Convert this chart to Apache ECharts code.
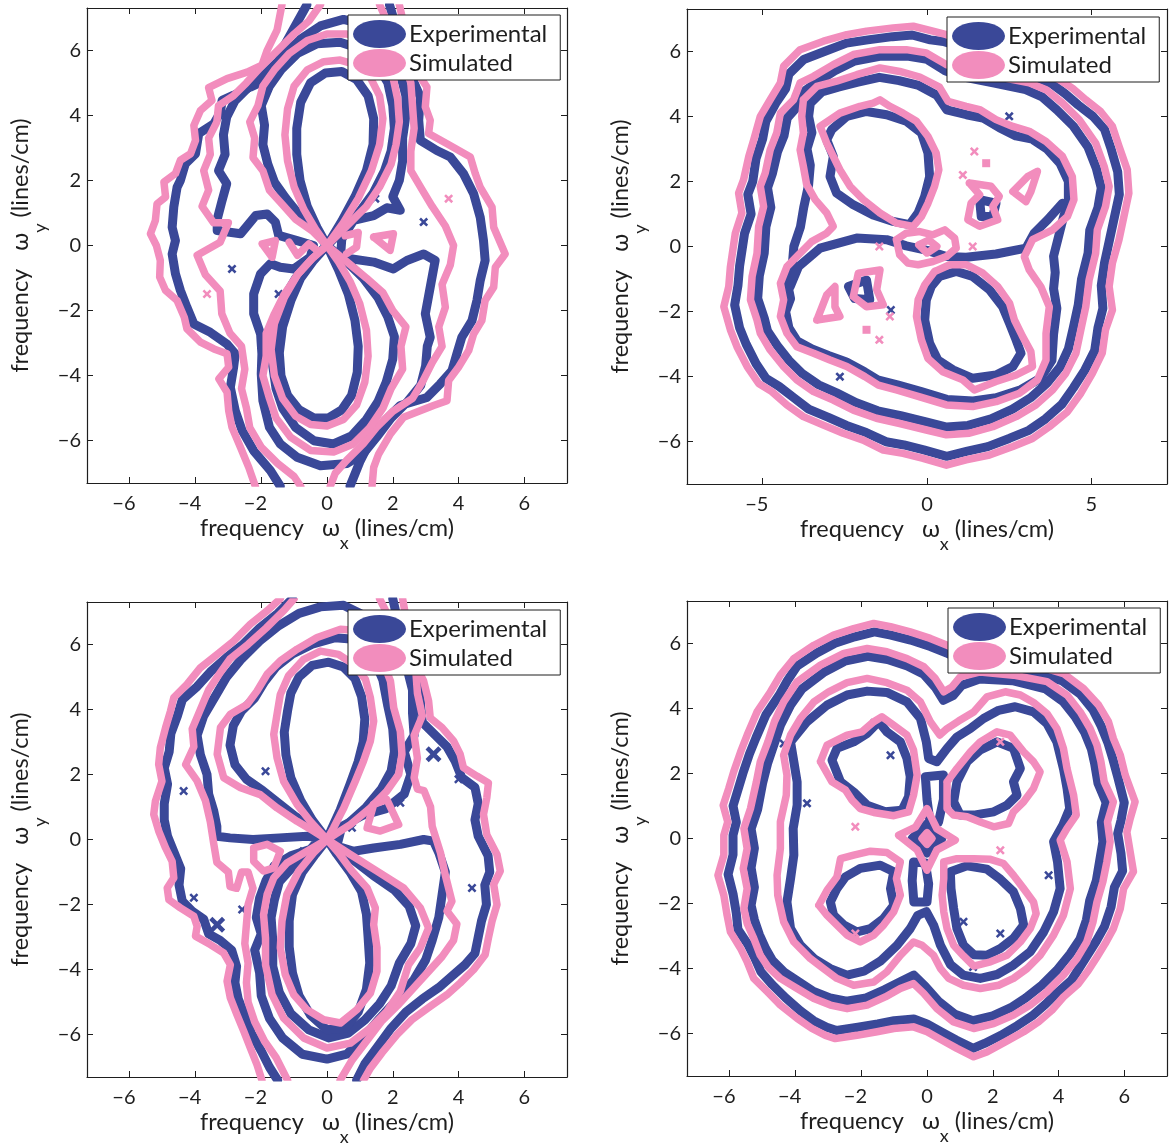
<!DOCTYPE html>
<html><head><meta charset="utf-8">
<script src="https://cdn.jsdelivr.net/npm/echarts@6/dist/echarts.min.js"></script>
<style>html,body{margin:0;padding:0;background:#fff}#c{width:1169px;height:1144px}</style>
</head><body><div id="c"></div>
<script>
// ---------- tick labels ----------
const TICKS_EVEN = [-6,-4,-2,0,2,4,6];
const TICKS_FIVE = [-5,0,5];
const AXIS_RANGE = [-7.3, 7.3];
const SERIES_NAMES = ['Experimental','Simulated'];

// ---------- top-left panel ----------
const tlSimOuterLeft = [[-1.37,7.4],[-1.52,6.62],[-1.82,6.0],[-1.98,5.54],[-2.43,5.33],[-3.04,5.13],[-3.6,4.85],[-3.5,4.46],[-3.85,4.15],[-4.05,3.69],[-4.0,3.23],[-4.15,2.82],[-4.46,2.62],[-4.61,2.21],[-4.96,1.95],[-4.91,1.49],[-5.17,1.28],[-5.22,0.77],[-5.37,0.36],[-5.19,0],[-5.07,-0.46],[-5.09,-0.97],[-4.91,-1.38],[-4.56,-1.69],[-4.34,-2.21],[-4.26,-2.56],[-3.85,-2.97],[-3.44,-3.18],[-3.04,-3.33],[-2.99,-3.74],[-3.29,-4.1],[-3.04,-4.51],[-2.99,-5.08],[-2.89,-5.59],[-2.63,-6.21],[-2.38,-6.82],[-2.18,-7.4]];
const tlExpOuterLeft = [[-0.61,7.4],[-1.01,6.67],[-1.32,6.1],[-1.52,5.49],[-1.87,5.08],[-2.33,4.87],[-2.84,4.62],[-3.19,4.46],[-3.24,4.1],[-3.44,3.74],[-3.9,3.44],[-4.0,2.82],[-4.31,2.51],[-4.46,2.0],[-4.56,1.79],[-4.66,1.18],[-4.71,0.56],[-4.61,0.15],[-4.71,-0.26],[-4.61,-0.87],[-4.46,-1.38],[-4.26,-1.9],[-4.05,-2.41],[-3.55,-2.67],[-3.04,-3.03],[-2.79,-3.33],[-2.84,-3.74],[-2.94,-4.36],[-2.79,-5.08],[-2.58,-5.69],[-2.23,-6.31],[-1.72,-6.92],[-1.42,-7.4]];
const tlSimOuterRight = [[2.2,7.4],[2.63,5.49],[3.04,4.87],[2.99,4.26],[3.14,3.85],[3.09,3.44],[3.65,3.13],[4.36,2.72],[4.51,2.21],[4.66,1.79],[5.02,1.18],[5.07,0.56],[5.42,-0.26],[5.12,-0.67],[5.07,-1.28],[4.81,-1.69],[4.71,-2.31],[4.46,-2.72],[4.31,-3.23],[4.0,-3.74],[3.7,-4.15],[3.65,-4.77],[3.24,-4.92],[2.33,-5.28],[1.93,-5.79],[1.57,-6.41],[1.42,-6.82],[1.37,-7.4]];
const tlExpOuterRight = [[1.9,7.4],[2.53,5.28],[2.84,4.56],[2.79,3.85],[2.84,3.23],[3.34,2.92],[3.75,2.72],[4.15,2.21],[4.46,1.59],[4.66,0.87],[4.76,0.15],[4.81,-0.46],[4.66,-1.08],[4.56,-1.69],[4.41,-2.31],[4.1,-2.82],[3.95,-3.33],[3.8,-3.85],[3.44,-4.26],[3.04,-4.67],[2.23,-4.92],[1.77,-5.38],[1.32,-6.0],[1.01,-6.62],[0.7,-7.4]];
const tlSimSecondLeft = [[-0.2,7.4],[-0.55,6.9],[-1.0,6.5],[-1.5,6.0],[-2.0,5.5],[-2.45,5.0],[-2.85,4.6],[-3.3,4.3],[-3.35,3.8],[-3.6,3.3],[-3.55,2.8],[-3.75,2.3],[-3.6,1.7],[-3.8,1.2],[-3.45,0.7],[-3.0,0.7],[-3.25,0.1],[-3.95,-0.3],[-3.7,-0.9],[-3.25,-1.4],[-3.2,-2.1],[-2.95,-2.7],[-2.6,-3.1],[-2.5,-3.8],[-2.6,-4.4],[-2.45,-5.0],[-2.35,-5.6],[-2.0,-6.2],[-1.5,-6.7],[-1.0,-7.1],[-0.8,-7.4]];
const tlSimSecondRight = [[1.6,7.4],[2.0,6.5],[2.3,5.8],[2.55,5.0],[2.6,4.3],[2.65,3.6],[2.55,2.9],[2.55,2.3],[2.9,1.7],[3.2,1.2],[3.6,0.6],[3.85,0.0],[3.75,-0.6],[3.5,-1.2],[3.6,-1.9],[3.4,-2.5],[3.5,-3.1],[3.2,-3.6],[2.9,-4.2],[2.6,-4.7],[2.0,-5.1],[1.5,-5.6],[1.1,-6.1],[0.6,-6.6],[0.25,-7.0],[0.1,-7.4]];
const tlExpSecond = [[0.5,6.95],[-0.2,6.75],[-0.8,6.35],[-1.3,5.85],[-1.85,5.3],[-2.35,4.9],[-2.8,4.45],[-3.05,3.95],[-3.15,3.4],[-3.1,2.8],[-3.3,2.3],[-3.05,1.9],[-3.2,1.35],[-3.34,0.8],[-3.34,0.46],[-2.63,0.36],[-2.17,0.92],[-1.82,0.97],[-1.57,0.72],[-1.47,0.31],[-0.91,0.15],[-0.41,0.0],[-0.51,-0.36],[-1.01,-0.72],[-1.42,-0.67],[-1.72,-0.56],[-2.02,-0.87],[-2.23,-1.49],[-2.23,-2.1],[-2.02,-2.72],[-1.98,-3.33],[-2.0,-3.95],[-1.95,-4.77],[-1.75,-5.59],[-1.42,-6.1],[-0.91,-6.51],[-0.2,-6.77],[0.61,-6.7],[1.1,-6.4],[1.5,-5.9],[1.95,-5.3],[2.45,-4.8],[2.85,-4.3],[3.0,-3.7],[3.05,-3.1],[3.14,-2.82],[2.99,-2.1],[3.14,-1.28],[3.29,-0.46],[2.94,-0.26],[2.43,-0.46],[2.02,-0.72],[1.42,-0.51],[0.41,-0.36],[0.45,0.2],[0.81,0.77],[1.42,0.92],[1.82,1.16],[2.23,1.08],[2.0,1.5],[2.2,2.0],[2.3,2.6],[2.3,3.3],[2.4,4.0],[2.4,4.6],[2.25,5.2],[2.0,5.8],[1.6,6.4],[1.1,6.8],[0.5,6.95]];
const tlSimThird = [[0,0],[-0.45,0.45],[-0.95,0.8],[-1.35,1.25],[-1.75,1.7],[-1.95,2.3],[-2.25,2.7],[-2.2,3.3],[-2.35,3.8],[-2.1,4.3],[-1.95,4.9],[-1.6,5.4],[-1.15,5.9],[-0.6,6.3],[0.0,6.5],[0.6,6.5],[1.2,6.3],[1.7,5.8],[2.0,5.2],[2.15,4.5],[2.2,3.8],[2.1,3.1],[1.95,2.5],[1.6,1.8],[1.2,1.2],[0.7,0.7],[0.3,0.3],[0,0],[-0.45,-0.4],[-0.9,-0.9],[-1.3,-1.5],[-1.6,-2.1],[-1.85,-2.7],[-1.85,-3.4],[-1.95,-4.0],[-1.75,-4.7],[-1.55,-5.3],[-1.1,-5.9],[-0.5,-6.3],[0.2,-6.35],[0.8,-6.1],[1.3,-5.6],[1.7,-5.0],[1.95,-4.4],[2.3,-3.8],[2.25,-3.1],[2.4,-2.5],[2.0,-2.0],[1.7,-1.45],[1.2,-1.0],[0.6,-0.5],[0,0]];
const tlExpThird = [[0,0],[-0.4,0.5],[-0.85,0.95],[-1.25,1.45],[-1.6,1.95],[-1.8,2.5],[-1.95,3.1],[-1.9,3.7],[-2.0,4.3],[-1.75,4.9],[-1.4,5.4],[-0.9,5.9],[-0.3,6.2],[0.4,6.25],[1.0,6.05],[1.5,5.6],[1.85,5.0],[2.0,4.3],[2.05,3.6],[1.95,2.9],[1.75,2.3],[1.4,1.6],[1.0,1.05],[0.5,0.5],[0,0],[-0.5,-0.45],[-0.95,-1.0],[-1.3,-1.6],[-1.55,-2.3],[-1.65,-3.0],[-1.65,-3.7],[-1.55,-4.4],[-1.35,-5.0],[-0.95,-5.6],[-0.4,-6.0],[0.2,-6.1],[0.75,-5.85],[1.2,-5.35],[1.55,-4.8],[1.8,-4.2],[2.0,-3.5],[2.05,-2.8],[1.85,-2.2],[1.55,-1.6],[1.1,-1.0],[0.55,-0.45],[0,0]];
const tlSimInner = [[0,0],[-0.35,0.5],[-0.7,1.1],[-1.0,1.8],[-1.2,2.6],[-1.28,3.4],[-1.2,4.2],[-1.0,4.9],[-0.6,5.4],[-0.1,5.65],[0.4,5.7],[0.9,5.55],[1.3,5.2],[1.6,4.6],[1.7,3.9],[1.6,3.1],[1.35,2.3],[0.95,1.45],[0.5,0.7],[0,0],[-0.45,-0.4],[-0.9,-0.9],[-1.3,-1.6],[-1.6,-2.4],[-1.7,-3.2],[-1.6,-4.0],[-1.35,-4.7],[-0.95,-5.25],[-0.5,-5.5],[0,-5.55],[0.5,-5.35],[0.9,-4.9],[1.15,-4.2],[1.25,-3.4],[1.2,-2.6],[1.0,-1.8],[0.7,-1.1],[0.35,-0.5],[0,0]];
const tlExpInner = [[0,0],[-0.3,0.55],[-0.6,1.2],[-0.82,2.0],[-0.92,2.8],[-0.92,3.6],[-0.8,4.4],[-0.5,5.0],[-0.05,5.3],[0.45,5.35],[0.9,5.1],[1.25,4.6],[1.42,3.9],[1.4,3.1],[1.2,2.3],[0.85,1.5],[0.45,0.75],[0,0],[-0.4,-0.45],[-0.8,-1.0],[-1.1,-1.7],[-1.35,-2.5],[-1.45,-3.3],[-1.4,-4.0],[-1.2,-4.6],[-0.85,-5.05],[-0.4,-5.3],[0.05,-5.3],[0.45,-5.05],[0.75,-4.6],[0.92,-3.9],[0.95,-3.1],[0.85,-2.3],[0.65,-1.5],[0.35,-0.75],[0,0]];
const tlSimLoopA = [[-1.97,0.05],[-1.57,0.15],[-1.67,-0.36],[-1.97,0.05]];
const tlSimLoopB = [[1.42,0.26],[2.02,0.36],[1.92,-0.15],[1.42,0.26]];
const tlSimZigA = [[-1.15,0.1],[-0.9,-0.3],[-0.55,0.05],[-0.3,-0.15]];
const tlSimZigB = [[0.55,0.3],[0.95,0.4],[0.9,-0.05],[0.6,-0.25]];
const tlExpMarks = [[-2.89,-0.72],[2.94,0.72],[1.47,1.44],[-1.47,-1.49]];
const tlSimMarks = [[-3.65,-1.49],[3.7,1.44]];

// ---------- top-right panel ----------
const trSimRing1 = [[0.59,6.51],[0.18,6.62],[-0.42,6.77],[-1.03,6.72],[-1.84,6.62],[-2.44,6.51],[-3.15,6.31],[-3.86,6.05],[-4.36,5.54],[-4.46,5.03],[-4.77,4.51],[-5.07,4.0],[-5.27,3.28],[-5.42,2.77],[-5.58,2.05],[-5.73,1.64],[-5.63,1.03],[-5.83,0.41],[-5.98,-0.62],[-6.03,-1.23],[-6.18,-1.85],[-5.98,-2.56],[-5.78,-3.08],[-5.47,-3.69],[-5.12,-4.21],[-4.72,-4.46],[-4.26,-4.87],[-3.76,-5.23],[-3.15,-5.49],[-2.55,-5.74],[-1.94,-5.95],[-1.33,-6.26],[-0.73,-6.36],[-0.12,-6.51],[0.59,-6.72],[1.19,-6.56],[1.9,-6.41],[2.61,-6.15],[3.21,-5.9],[3.72,-5.54],[4.27,-5.08],[4.68,-4.51],[5.03,-3.9],[5.33,-3.28],[5.43,-2.56],[5.64,-1.95],[5.54,-1.23],[5.64,-0.51],[5.84,0.21],[5.99,0.92],[6.14,1.64],[6.09,2.36],[5.84,3.08],[5.64,3.69],[5.28,4.15],[4.83,4.51],[4.42,4.87],[4.02,5.13],[2.61,5.74],[1.6,6.15],[0.59,6.51]];
const trExpRing1 = [[0.5,6.3],[0.1,6.35],[-0.45,6.5],[-1.05,6.45],[-1.8,6.35],[-2.45,6.25],[-3.1,6.0],[-3.75,5.75],[-4.2,5.3],[-4.3,4.85],[-4.6,4.4],[-4.9,3.85],[-5.0,3.3],[-5.2,2.7],[-5.3,2.0],[-5.45,1.6],[-5.35,1.0],[-5.55,0.4],[-5.7,-0.6],[-5.75,-1.2],[-5.85,-1.8],[-5.7,-2.5],[-5.5,-3.0],[-5.2,-3.6],[-4.9,-4.05],[-4.5,-4.3],[-4.05,-4.65],[-3.6,-5.0],[-3.0,-5.25],[-2.45,-5.5],[-1.85,-5.72],[-1.25,-6.0],[-0.7,-6.1],[-0.1,-6.25],[0.6,-6.45],[1.2,-6.3],[1.85,-6.15],[2.5,-5.9],[3.1,-5.65],[3.6,-5.3],[4.1,-4.85],[4.45,-4.35],[4.8,-3.8],[5.1,-3.2],[5.2,-2.5],[5.35,-1.9],[5.3,-1.2],[5.4,-0.5],[5.55,0.2],[5.7,0.9],[5.85,1.6],[5.8,2.3],[5.6,3.0],[5.4,3.6],[5.05,4.0],[4.6,4.35],[4.2,4.7],[3.8,5.0],[2.6,5.5],[1.6,5.95],[0.5,6.3]];
const trSimRing2 = [[0.59,5.59],[-0.02,5.95],[-0.63,6.05],[-1.43,6.05],[-2.24,5.9],[-2.85,5.59],[-3.45,5.23],[-3.86,5.03],[-4.06,4.51],[-4.46,4.1],[-4.57,3.49],[-4.77,2.97],[-4.92,2.26],[-5.07,1.85],[-4.97,1.23],[-5.12,0.62],[-5.17,-0.21],[-5.32,-0.92],[-5.37,-1.64],[-5.17,-2.26],[-5.07,-2.67],[-4.77,-3.18],[-4.36,-3.69],[-3.96,-4.1],[-3.45,-4.46],[-2.85,-4.72],[-2.24,-5.03],[-1.54,-5.28],[-0.83,-5.44],[-0.02,-5.64],[0.59,-5.79],[1.29,-5.74],[2.0,-5.54],[2.71,-5.23],[3.31,-4.87],[3.82,-4.41],[4.22,-3.9],[4.53,-3.28],[4.68,-2.56],[4.83,-1.85],[4.93,-1.03],[5.13,-0.21],[5.18,0.51],[5.43,1.23],[5.54,1.85],[5.39,2.46],[5.13,3.18],[4.63,3.9],[4.12,4.41],[3.62,4.82],[3.11,5.03],[2.1,5.23],[1.09,5.44],[0.59,5.59]];
const trExpRing2 = [[0.55,5.4],[0.0,5.75],[-0.6,5.85],[-1.4,5.85],[-2.2,5.7],[-2.8,5.4],[-3.35,5.05],[-3.7,4.8],[-3.9,4.35],[-4.25,3.95],[-4.35,3.4],[-4.55,2.9],[-4.7,2.25],[-4.85,1.8],[-4.75,1.2],[-4.9,0.6],[-4.95,-0.2],[-5.1,-0.9],[-5.15,-1.6],[-4.95,-2.2],[-4.85,-2.6],[-4.55,-3.05],[-4.2,-3.5],[-3.8,-3.9],[-3.3,-4.25],[-2.75,-4.5],[-2.15,-4.8],[-1.5,-5.05],[-0.8,-5.2],[0.0,-5.4],[0.6,-5.55],[1.25,-5.5],[1.95,-5.3],[2.6,-5.0],[3.15,-4.65],[3.65,-4.2],[4.05,-3.7],[4.3,-3.15],[4.45,-2.5],[4.6,-1.8],[4.7,-1.0],[4.9,-0.2],[4.95,0.5],[5.2,1.2],[5.3,1.8],[5.15,2.4],[4.9,3.05],[4.45,3.7],[3.95,4.2],[3.5,4.6],[3.0,4.82],[2.05,5.02],[1.05,5.22],[0.55,5.4]];
const trSimRing3 = [[-3.76,4.51],[-3.35,4.92],[-2.75,5.08],[-2.14,5.28],[-1.43,5.49],[-0.83,5.38],[-0.22,5.21],[0.38,4.9],[0.64,4.46],[1.19,4.31],[1.6,4.21],[2.1,3.9],[2.61,3.69],[3.11,3.54],[3.62,3.23],[4.12,2.77],[4.42,2.15],[4.47,1.44],[4.27,0.92],[3.82,0.51],[3.21,0.21],[2.96,-0.31],[3.11,-0.72],[3.46,-1.23],[3.72,-1.85],[3.62,-2.67],[3.62,-3.49],[3.36,-4.1],[2.81,-4.51],[2.1,-4.77],[1.39,-4.92],[0.59,-4.87],[-0.22,-4.62],[-0.93,-4.41],[-1.48,-4.26],[-1.89,-4.0],[-2.44,-3.69],[-2.95,-3.49],[-3.45,-3.28],[-3.96,-3.08],[-4.26,-2.67],[-4.46,-2.15],[-4.36,-1.64],[-4.46,-1.13],[-4.26,-0.62],[-3.91,-0.26],[-3.51,0.15],[-3.05,0.41],[-2.85,0.62],[-3.05,1.03],[-3.4,1.44],[-3.66,1.9],[-3.76,2.46],[-3.86,2.97],[-3.76,3.49],[-3.81,4.0],[-3.76,4.51]];
const trExpRing3 = [[-3.55,4.4],[-3.2,4.75],[-2.7,4.9],[-2.1,5.05],[-1.45,5.2],[-0.85,5.1],[-0.25,4.95],[0.3,4.65],[0.6,4.2],[1.2,4.05],[1.7,3.95],[2.2,3.65],[2.7,3.4],[3.2,3.3],[3.65,3.0],[4.05,2.55],[4.3,2.0],[4.3,1.4],[4.15,0.9],[4.0,0.3],[3.85,-0.3],[3.9,-0.8],[3.85,-1.3],[3.95,-1.9],[3.85,-2.7],[3.8,-3.5],[3.45,-4.05],[2.85,-4.4],[2.1,-4.65],[1.4,-4.75],[0.6,-4.7],[-0.2,-4.45],[-0.9,-4.25],[-1.5,-4.1],[-1.9,-3.85],[-2.45,-3.55],[-3.0,-3.35],[-3.5,-3.15],[-3.95,-2.9],[-4.2,-2.5],[-4.3,-2.0],[-4.15,-1.6],[-4.25,-1.1],[-4.1,-0.6],[-4.05,0.0],[-3.85,0.6],[-3.75,1.2],[-3.6,1.9],[-3.55,2.5],[-3.65,3.0],[-3.5,3.5],[-3.6,4.0],[-3.55,4.4]];
const trExpDivide = [[-4.16,-1.23],[-3.91,-0.62],[-3.25,-0.05],[-2.14,0.26],[-1.23,0.21],[-0.63,0.02],[0,-0.12],[0.59,-0.31],[1.19,-0.33],[2.1,-0.23],[3.01,-0.05],[3.26,0.41],[3.67,0.82],[4.12,1.33]];
const trSimLobeUL = [[-3.25,3.69],[-2.65,4.1],[-2.04,4.31],[-1.64,4.41],[-1.43,4.51],[-1.13,4.31],[-0.73,4.1],[-0.32,3.85],[0.03,3.38],[0.28,2.87],[0.36,2.36],[0.23,1.85],[0.03,1.33],[-0.17,0.92],[-0.42,0.62],[-0.93,0.72],[-1.43,1.03],[-1.94,1.44],[-2.34,1.85],[-2.65,2.36],[-2.85,2.77],[-3.05,3.18],[-3.25,3.69]];
const trExpLobeUL = [[-2.9,3.59],[-2.44,4.0],[-1.84,4.15],[-1.23,4.05],[-0.63,3.85],[-0.17,3.49],[0.03,2.87],[0.08,2.15],[-0.07,1.54],[-0.27,1.03],[-0.53,0.67],[-1.03,0.77],[-1.64,0.97],[-2.24,1.28],[-2.75,1.64],[-2.95,2.15],[-2.85,2.77],[-3.05,3.28],[-2.9,3.59]];
const trSimLobeLR = [[0.23,-0.77],[0.69,-0.56],[1.19,-0.56],[1.7,-0.82],[2.15,-1.23],[2.51,-1.74],[2.66,-2.26],[2.91,-2.77],[3.16,-3.23],[3.21,-3.69],[2.71,-3.95],[2.1,-4.15],[1.44,-4.41],[1.09,-4.1],[0.48,-3.85],[0.03,-3.44],[-0.17,-2.87],[-0.32,-2.15],[-0.27,-1.64],[-0.07,-1.18],[0.23,-0.77]];
const trExpLobeLR = [[0.38,-0.92],[0.89,-0.77],[1.39,-0.92],[1.9,-1.33],[2.3,-1.85],[2.51,-2.36],[2.71,-2.87],[2.86,-3.28],[2.61,-3.69],[2.1,-3.95],[1.39,-4.05],[0.79,-3.79],[0.33,-3.49],[0.08,-2.97],[-0.07,-2.26],[-0.02,-1.64],[0.13,-1.23],[0.38,-0.92]];
const trSimCenter = [[-0.93,0.21],[-0.63,0.41],[-0.22,0.46],[0.18,0.36],[0.54,0.51],[0.84,0.26],[0.89,-0.05],[0.59,-0.31],[0.18,-0.46],[-0.27,-0.56],[-0.58,-0.51],[-0.83,-0.26],[-0.93,0.21]];
const trSimCenterDot = [[-0.25,0.05],[0.05,0.2],[0.3,0.0],[0.0,-0.2],[-0.25,0.05]];
const trSimTriUR1 = [[1.29,1.95],[1.95,1.85],[2.2,1.54],[2.0,1.23],[2.15,0.82],[1.6,0.62],[1.24,0.82],[1.34,1.33],[1.6,1.59],[1.29,1.95]];
const trSimTriUR2 = [[2.61,1.69],[3.06,2.15],[3.36,2.31],[3.16,1.69],[3.01,1.38],[2.61,1.69]];
const trExpTriUR = [[1.6,1.44],[2.1,1.33],[2.0,0.92],[1.65,0.92],[1.6,1.44]];
const trSimTriLL1 = [[-3.35,-2.26],[-3.05,-1.49],[-2.8,-1.23],[-2.8,-1.85],[-2.65,-2.15],[-3.35,-2.26]];
const trSimTriLL2 = [[-2.24,-1.54],[-2.09,-0.82],[-1.43,-0.72],[-1.53,-1.33],[-1.33,-1.79],[-1.84,-1.85],[-2.24,-1.54]];
const trExpTriLL = [[-2.39,-1.23],[-1.84,-1.03],[-1.74,-1.64],[-2.2,-1.6],[-2.39,-1.23]];
const trExpMarks = [[2.5,4.0],[-2.65,-4.0],[-1.1,-1.95]];
const trSimMarks = [[1.09,2.2],[-1.13,-2.15],[1.39,0.0],[-1.45,0.0],[1.44,2.92],[-1.45,-2.87]];
const trSimSquares = [[1.8,2.56],[-1.84,-2.56]];

// ---------- bottom-left panel ----------
const blSimOuterLeft = [[-1.42,7.4],[-1.82,7.03],[-2.33,6.62],[-2.84,6.1],[-3.34,5.69],[-3.85,5.28],[-4.26,4.77],[-4.66,4.36],[-4.76,3.95],[-4.91,3.44],[-5.07,2.82],[-5.12,2.31],[-5.02,1.79],[-5.22,1.18],[-5.27,0.77],[-5.12,0.26],[-4.91,-0.26],[-4.71,-0.67],[-4.66,-1.18],[-4.86,-1.49],[-4.81,-1.85],[-4.46,-2.1],[-4.05,-2.36],[-3.95,-2.67],[-4.0,-2.97],[-3.55,-3.23],[-3.14,-3.49],[-2.94,-3.85],[-3.04,-4.36],[-2.94,-4.87],[-2.74,-5.38],[-2.53,-5.9],[-2.33,-6.41],[-2.13,-6.92],[-1.98,-7.4]];
const blExpOuterLeft = [[-1.05,7.4],[-1.5,6.95],[-2.05,6.5],[-2.55,6.0],[-3.05,5.6],[-3.55,5.15],[-3.95,4.7],[-4.4,4.3],[-4.55,3.8],[-4.75,3.25],[-4.8,2.7],[-4.95,2.2],[-4.85,1.7],[-4.95,1.1],[-4.95,0.6],[-4.85,0.1],[-4.65,-0.4],[-4.45,-0.9],[-4.5,-1.4],[-4.4,-1.9],[-4.1,-2.2],[-3.75,-2.45],[-3.6,-2.9],[-3.25,-3.1],[-2.9,-3.4],[-2.75,-3.9],[-2.8,-4.4],[-2.7,-4.9],[-2.5,-5.4],[-2.3,-5.95],[-2.0,-6.5],[-1.75,-7.0],[-1.5,-7.4]];
const blSimOuterRight = [[2.3,7.4],[2.63,5.49],[2.94,4.87],[3.09,4.26],[3.14,3.74],[3.5,3.44],[3.85,3.03],[4.05,2.62],[4.15,2.21],[4.56,1.95],[4.91,1.74],[4.86,1.28],[4.76,0.77],[4.86,0.15],[5.17,-0.46],[5.27,-0.97],[5.07,-1.38],[5.17,-2.0],[5.02,-2.51],[4.91,-3.03],[4.81,-3.54],[4.46,-4.0],[4.05,-4.41],[3.65,-4.77],[3.14,-5.13],[2.58,-5.54],[2.13,-6.0],[1.67,-6.56],[1.32,-7.03],[1.11,-7.4]];
const blExpOuterRight = [[2.0,7.4],[2.45,5.4],[2.8,4.7],[2.85,4.1],[2.9,3.6],[3.3,3.2],[3.65,2.85],[3.9,2.4],[4.1,1.9],[4.5,1.6],[4.6,1.1],[4.5,0.6],[4.6,0.1],[4.9,-0.5],[4.95,-1.0],[4.8,-1.4],[4.85,-2.0],[4.7,-2.5],[4.6,-3.0],[4.5,-3.5],[4.2,-3.85],[3.8,-4.2],[3.4,-4.55],[2.9,-4.9],[2.4,-5.3],[1.95,-5.8],[1.55,-6.35],[1.15,-6.9],[0.9,-7.4]];
const blSimSecondLeft = [[-1.0,7.4],[-1.3,7.05],[-1.85,6.5],[-2.4,6.0],[-2.95,5.55],[-3.3,5.05],[-3.6,4.6],[-3.85,4.0],[-4.1,3.4],[-4.05,2.85],[-4.3,2.3],[-3.95,1.8],[-3.7,1.2],[-3.55,0.55],[-3.45,-0.1],[-3.35,-0.7],[-3.0,-1.0],[-2.95,-1.45],[-2.75,-1.5],[-2.6,-1.0],[-2.4,-1.0],[-2.25,-1.5],[-2.4,-2.0],[-2.45,-2.6],[-2.5,-3.2],[-2.4,-3.8],[-2.45,-4.4],[-2.4,-5.0],[-2.2,-5.6],[-1.9,-6.2],[-1.55,-6.7],[-1.2,-7.4]];
const blSimSecondRight = [[1.6,7.4],[2.0,6.6],[2.35,5.9],[2.7,5.2],[2.75,4.5],[2.9,3.8],[2.65,3.2],[2.75,2.5],[2.65,1.9],[2.75,1.55],[2.95,1.5],[3.15,1.0],[3.2,0.4],[3.45,-0.4],[3.6,-1.1],[3.8,-1.9],[3.65,-2.2],[3.95,-2.6],[3.85,-3.1],[3.5,-3.6],[3.05,-4.1],[2.6,-4.6],[2.15,-5.1],[1.65,-5.6],[1.2,-6.2],[0.75,-6.8],[0.4,-7.4]];
const blExpSecond = [[0.5,7.2],[-0.2,7.15],[-0.85,6.95],[-1.5,6.55],[-2.05,6.1],[-2.6,5.55],[-3.05,5.0],[-3.4,4.4],[-3.75,3.8],[-3.95,3.2],[-3.85,2.6],[-3.65,2.0],[-3.6,1.4],[-3.45,0.9],[-3.35,0.4],[-3.35,0.1],[-2.95,0.05],[-2.25,0.0],[-1.45,0.05],[-0.6,0.1],[-0.2,0.05],[-0.5,-0.3],[-1.1,-0.5],[-1.6,-0.8],[-1.85,-1.25],[-2.05,-1.8],[-2.15,-2.4],[-2.0,-2.9],[-2.2,-3.4],[-2.05,-4.1],[-2.0,-4.8],[-1.75,-5.5],[-1.35,-6.1],[-0.75,-6.6],[0.0,-6.75],[0.6,-6.6],[1.1,-6.1],[1.6,-5.5],[2.15,-4.9],[2.65,-4.3],[3.0,-3.7],[3.2,-3.1],[3.4,-2.4],[3.5,-1.7],[3.6,-1.0],[3.4,-0.4],[3.24,-0.05],[2.94,0.0],[2.23,-0.15],[1.42,-0.26],[0.81,-0.36],[0.3,-0.2],[0.45,0.4],[1.1,0.75],[1.8,0.95],[2.35,1.4],[2.55,2.0],[2.35,2.7],[2.65,3.2],[2.6,3.9],[2.6,4.6],[2.45,5.2],[2.1,5.8],[1.6,6.4],[1.0,6.95],[0.5,7.2]];
const blSimThird = [[0,0],[-0.41,0.26],[-0.91,0.56],[-1.52,0.97],[-2.03,1.38],[-2.63,1.59],[-3.14,1.9],[-3.34,2.62],[-3.24,3.44],[-2.94,3.85],[-2.43,4.15],[-2.13,4.56],[-1.82,5.08],[-1.42,5.49],[-0.91,5.85],[-0.3,6.21],[0.41,6.46],[1.11,6.41],[1.62,5.69],[1.93,4.87],[2.03,4.05],[2.23,3.33],[2.28,2.62],[2.18,2.0],[1.82,1.49],[1.32,0.97],[0.71,0.46],[0,0],[-0.61,-0.36],[-1.22,-0.72],[-1.62,-1.18],[-1.82,-1.69],[-1.93,-2.31],[-1.87,-3.03],[-1.87,-3.85],[-1.67,-4.77],[-1.32,-5.49],[-0.71,-6.1],[0,-6.41],[0.71,-6.26],[1.32,-5.79],[1.82,-5.28],[2.23,-4.67],[2.48,-3.85],[2.84,-3.33],[3.09,-2.72],[2.84,-2.1],[2.33,-1.49],[1.52,-0.97],[0.71,-0.46],[0,0]];
const blExpThird = [[0,0],[-0.45,0.35],[-0.95,0.7],[-1.45,1.1],[-1.95,1.5],[-2.45,1.85],[-2.8,2.3],[-2.95,2.9],[-2.85,3.5],[-2.6,3.95],[-2.2,4.35],[-1.9,4.85],[-1.55,5.3],[-1.05,5.7],[-0.45,6.0],[0.25,6.2],[0.9,6.15],[1.4,5.6],[1.7,4.9],[1.85,4.1],[2.0,3.4],[2.05,2.7],[1.95,2.1],[1.65,1.55],[1.2,1.0],[0.6,0.45],[0,0],[-0.55,-0.45],[-1.05,-0.85],[-1.45,-1.3],[-1.6,-1.85],[-1.7,-2.4],[-1.65,-3.1],[-1.65,-3.9],[-1.45,-4.7],[-1.1,-5.35],[-0.55,-5.85],[0.05,-6.1],[0.65,-5.95],[1.15,-5.55],[1.6,-5.05],[1.95,-4.5],[2.2,-3.8],[2.55,-3.2],[2.7,-2.65],[2.5,-2.05],[2.05,-1.55],[1.4,-1.1],[0.7,-0.55],[0,0]];
const blSimInner = [[0,0],[-0.51,0.56],[-0.91,1.08],[-1.32,1.79],[-1.52,2.51],[-1.62,3.23],[-1.52,3.85],[-1.42,4.46],[-1.17,5.03],[-0.71,5.54],[-0.2,5.79],[0.35,5.69],[0.81,5.38],[1.17,4.92],[1.32,4.36],[1.42,3.64],[1.32,3.03],[1.11,2.41],[0.86,1.79],[0.51,0.97],[0.2,0.36],[0,0],[-0.41,-0.41],[-0.86,-0.97],[-1.22,-1.69],[-1.37,-2.51],[-1.42,-3.33],[-1.27,-4.15],[-1.01,-4.77],[-0.61,-5.23],[-0.1,-5.54],[0.41,-5.64],[0.91,-5.23],[1.32,-4.72],[1.52,-4.05],[1.52,-3.33],[1.42,-2.62],[1.47,-2.1],[1.22,-1.49],[0.76,-0.97],[0.35,-0.41],[0,0]];
const blExpInner = [[0,0],[-0.45,0.6],[-0.8,1.2],[-1.1,1.9],[-1.25,2.6],[-1.3,3.3],[-1.2,3.95],[-1.1,4.5],[-0.85,5.0],[-0.45,5.35],[0.05,5.45],[0.5,5.3],[0.85,4.95],[1.05,4.4],[1.15,3.7],[1.1,3.0],[0.95,2.4],[0.7,1.7],[0.4,0.9],[0.15,0.35],[0,0],[-0.35,-0.45],[-0.75,-1.0],[-1.05,-1.7],[-1.15,-2.5],[-1.15,-3.3],[-1.05,-4.1],[-0.85,-4.8],[-0.5,-5.4],[0.0,-5.85],[0.55,-5.8],[0.95,-5.3],[1.2,-4.6],[1.3,-3.8],[1.25,-3.0],[1.2,-2.3],[1.05,-1.6],[0.7,-1.0],[0.3,-0.45],[0,0]];
const blSimLoopA = [[1.42,1.08],[1.82,1.23],[2.18,0.46],[1.62,0.26],[1.22,0.36],[1.42,1.08]];
const blSimLoopB = [[-2.23,-0.26],[-1.82,-0.15],[-1.42,-0.36],[-1.62,-0.87],[-1.93,-0.97],[-2.23,-0.67],[-2.23,-0.26]];
const blExpMarks = [[-4.36,1.49],[4.41,-1.49],[0.76,0.36],[-0.71,-0.36],[2.23,1.13],[-2.58,-2.15],[-4.05,-1.79],[-1.87,2.1],[4.0,1.85],[2.58,2.15]];
const blExpBlobs = [[-3.34,-2.62],[3.24,2.62]];

// ---------- bottom-right panel ----------
const brSimRing1 = [[-4.05,5.53],[-3.44,5.94],[-2.84,6.25],[-2.23,6.45],[-1.62,6.61],[-1.11,6.51],[-0.51,6.35],[0.1,6.15],[0.61,5.94],[1.62,5.43],[2.63,5.53],[4.15,5.07],[4.76,4.61],[5.22,4.1],[5.52,3.59],[5.67,3.07],[5.88,2.56],[6.03,1.95],[6.33,1.13],[6.18,0.61],[6.08,0.2],[6.18,-0.41],[6.28,-1.02],[5.98,-1.54],[5.88,-2.15],[5.67,-2.77],[5.42,-3.23],[5.17,-3.64],[4.91,-4.05],[4.61,-4.46],[4.15,-4.87],[3.8,-5.28],[3.39,-5.64],[2.94,-5.94],[2.38,-6.25],[1.82,-6.56],[1.42,-6.71],[0.91,-6.45],[0.46,-6.2],[0,-5.94],[-0.41,-5.79],[-1.01,-5.84],[-1.52,-5.94],[-2.13,-6.05],[-2.79,-6.15],[-3.09,-6.05],[-3.5,-5.84],[-3.95,-5.53],[-4.46,-5.12],[-4.86,-4.71],[-5.27,-4.3],[-5.47,-3.79],[-5.67,-3.38],[-5.98,-2.87],[-6.08,-2.36],[-6.18,-1.74],[-6.36,-1.13],[-6.18,-0.51],[-6.18,0.1],[-6.06,0.51],[-6.2,1.02],[-6.03,1.54],[-5.88,2.05],[-5.67,2.66],[-5.47,3.18],[-5.17,3.89],[-4.76,4.51],[-4.46,5.02],[-4.05,5.53]];
const brExpRing1 = [[-3.95,5.3],[-3.35,5.7],[-2.8,6.0],[-2.2,6.2],[-1.6,6.35],[-1.1,6.25],[-0.5,6.1],[0.1,5.9],[0.6,5.7],[1.6,5.2],[2.6,5.3],[4.1,4.85],[4.65,4.45],[5.05,3.95],[5.3,3.45],[5.5,2.95],[5.65,2.45],[5.8,1.9],[6.0,1.1],[5.9,0.55],[5.8,0.15],[5.9,-0.45],[5.95,-1.0],[5.7,-1.5],[5.6,-2.1],[5.4,-2.7],[5.15,-3.15],[4.9,-3.55],[4.65,-3.95],[4.4,-4.35],[3.95,-4.75],[3.6,-5.1],[3.2,-5.45],[2.75,-5.75],[2.25,-6.05],[1.75,-6.3],[1.4,-6.45],[0.9,-6.2],[0.45,-5.95],[0,-5.7],[-0.4,-5.55],[-1.0,-5.6],[-1.5,-5.7],[-2.1,-5.8],[-2.75,-5.9],[-3.05,-5.8],[-3.45,-5.6],[-3.85,-5.3],[-4.3,-4.9],[-4.7,-4.5],[-5.05,-4.1],[-5.25,-3.65],[-5.45,-3.25],[-5.75,-2.8],[-5.8,-2.3],[-5.9,-1.7],[-6.05,-1.1],[-5.9,-0.5],[-5.9,0.1],[-5.8,0.5],[-5.9,1.0],[-5.75,1.5],[-5.6,2.0],[-5.4,2.6],[-5.2,3.1],[-4.9,3.8],[-4.5,4.4],[-4.25,4.85],[-3.95,5.3]];
const brSimRing2 = [[-3.95,4.82],[-3.24,5.33],[-2.53,5.69],[-1.82,5.84],[-1.22,5.74],[-0.61,5.53],[-0.1,5.28],[0.25,4.92],[0.51,4.51],[0.76,4.66],[1.01,4.97],[1.62,5.12],[2.63,5.02],[3.65,4.82],[4.26,4.41],[4.66,3.89],[4.96,3.38],[5.17,2.87],[5.29,2.36],[5.39,1.74],[5.67,1.13],[5.49,0.51],[5.57,-0.1],[5.47,-0.72],[5.35,-1.33],[5.17,-1.95],[5.05,-2.56],[4.86,-3.18],[4.56,-3.69],[4.15,-4.2],[3.65,-4.71],[3.14,-5.12],[2.63,-5.43],[2.03,-5.69],[1.42,-5.84],[0.81,-5.64],[0.3,-5.23],[-0.1,-4.76],[-0.41,-4.46],[-0.81,-4.61],[-1.27,-4.87],[-1.82,-5.12],[-2.43,-5.23],[-2.94,-5.12],[-3.44,-4.92],[-3.95,-4.61],[-4.46,-4.3],[-4.84,-3.94],[-5.07,-3.59],[-5.27,-3.07],[-5.47,-2.61],[-5.57,-2.15],[-5.47,-1.54],[-5.59,-0.92],[-5.47,-0.31],[-5.57,0.31],[-5.37,0.92],[-5.19,1.74],[-5.07,2.36],[-4.84,2.97],[-4.64,3.59],[-4.36,4.2],[-3.95,4.82]];
const brExpRing2 = [[-3.8,4.6],[-3.15,5.1],[-2.5,5.45],[-1.8,5.6],[-1.2,5.5],[-0.6,5.3],[-0.1,5.05],[0.25,4.65],[0.5,4.25],[0.8,4.4],[1.05,4.7],[1.6,4.9],[2.6,4.85],[3.6,4.6],[4.15,4.2],[4.5,3.75],[4.8,3.25],[5.0,2.75],[5.1,2.3],[5.2,1.7],[5.45,1.1],[5.3,0.5],[5.35,-0.1],[5.25,-0.7],[5.15,-1.3],[4.95,-1.9],[4.85,-2.5],[4.65,-3.1],[4.35,-3.55],[3.95,-4.05],[3.5,-4.5],[3.0,-4.9],[2.55,-5.2],[2.0,-5.45],[1.4,-5.6],[0.85,-5.4],[0.35,-5.0],[-0.05,-4.55],[-0.4,-4.2],[-0.8,-4.4],[-1.3,-4.65],[-1.85,-4.9],[-2.45,-5.0],[-2.95,-4.9],[-3.45,-4.7],[-3.9,-4.4],[-4.35,-4.1],[-4.7,-3.75],[-4.9,-3.4],[-5.1,-2.95],[-5.25,-2.5],[-5.35,-2.05],[-5.25,-1.5],[-5.35,-0.9],[-5.25,-0.3],[-5.35,0.3],[-5.15,0.9],[-5.0,1.7],[-4.85,2.3],[-4.65,2.9],[-4.45,3.5],[-4.15,4.1],[-3.8,4.6]];
const brSimRing3 = [[-4.36,2.56],[-4.15,3.18],[-3.85,3.69],[-3.44,4.2],[-2.99,4.51],[-2.43,4.79],[-1.82,4.92],[-1.22,4.79],[-0.61,4.56],[-0.2,4.2],[0.1,3.59],[0.39,3.18],[0.61,3.38],[0.96,3.61],[1.42,3.89],[1.82,4.35],[2.38,4.51],[2.84,4.41],[3.24,4.18],[3.65,3.84],[3.95,3.38],[4.15,2.77],[4.26,2.15],[4.46,1.33],[4.54,0.72],[4.26,0.31],[4.05,-0.05],[4.26,-0.72],[4.36,-1.54],[4.15,-2.36],[3.85,-2.97],[3.44,-3.59],[3.04,-4.0],[2.63,-4.3],[2.18,-4.51],[1.62,-4.61],[1.11,-4.51],[0.66,-4.3],[0.41,-4.0],[0.2,-3.59],[-0.15,-3.28],[-0.41,-3.18],[-0.81,-3.59],[-1.22,-4.1],[-1.62,-4.41],[-2.23,-4.51],[-2.74,-4.3],[-3.14,-4.0],[-3.55,-3.69],[-4.05,-3.18],[-4.36,-2.56],[-4.54,-1.74],[-4.56,-1.13],[-4.46,-0.31],[-4.46,0.51],[-4.28,1.33],[-4.26,1.95],[-4.36,2.56]];
const brExpRing3 = [[-4.15,2.97],[-3.65,3.59],[-3.04,4.1],[-2.43,4.41],[-1.82,4.53],[-1.22,4.49],[-0.61,4.2],[-0.2,3.69],[-0.02,2.97],[0.05,2.46],[0.3,2.36],[0.61,2.77],[0.91,3.12],[1.32,3.38],[1.72,3.69],[2.18,3.94],[2.68,4.05],[3.24,3.89],[3.65,3.53],[3.95,2.97],[4.15,2.15],[4.26,1.54],[4.34,0.92],[4.13,0.41],[3.85,-0.1],[3.97,-0.72],[4.05,-1.54],[3.85,-2.25],[3.55,-2.87],[3.14,-3.48],[2.63,-3.89],[2.13,-4.18],[1.62,-4.3],[1.11,-4.2],[0.71,-3.87],[0.41,-3.28],[0.2,-2.66],[-0.02,-2.25],[-0.28,-2.36],[-0.51,-2.77],[-0.91,-3.28],[-1.42,-3.77],[-1.92,-4.08],[-2.43,-4.2],[-2.94,-4.0],[-3.44,-3.69],[-3.85,-3.28],[-4.15,-2.77],[-4.26,-1.95],[-4.15,-1.23],[-4.05,-0.51],[-4.07,0.31],[-3.95,1.02],[-3.95,1.74],[-4.05,2.36],[-4.15,2.97]];
const brExpChannelTop = [[-0.05,1.9],[0.5,1.95],[0.5,1.2],[0.35,0.5],[0.1,0.45],[0.0,1.2],[-0.05,1.9]];
const brExpChannelBottom = [[-0.41,-0.72],[-0.05,-0.75],[0.05,-1.4],[0.0,-1.95],[-0.4,-1.95],[-0.45,-1.3],[-0.41,-0.72]];
const brSimDiamond = [[-0.86,0.1],[-0.35,0.35],[0,0.92],[0.3,0.3],[0.86,-0.05],[0.3,-0.35],[0,-0.97],[-0.3,-0.35],[-0.86,0.1]];
const brExpDiamond = [[-0.45,0.0],[0,0.45],[0.45,0.0],[0,-0.45],[-0.45,0.0]];
const brSimCore = [[-0.15,0],[0,0.18],[0.15,0],[0,-0.18],[-0.15,0]];
const brSimLobeUL = [[-3.24,2.36],[-3.04,2.87],[-2.43,3.18],[-1.98,3.28],[-1.62,3.59],[-1.37,3.74],[-1.01,3.48],[-0.61,3.18],[-0.41,2.72],[-0.3,1.95],[-0.41,1.33],[-0.56,0.82],[-1.01,0.7],[-1.62,0.8],[-2.03,0.92],[-2.28,1.18],[-2.48,1.49],[-2.89,1.74],[-3.24,2.36]];
const brExpLobeUL = [[-2.89,2.41],[-2.74,2.77],[-2.23,2.97],[-1.82,3.23],[-1.47,3.59],[-1.22,3.28],[-0.81,2.97],[-0.61,2.46],[-0.51,1.9],[-0.56,1.28],[-0.76,0.87],[-1.27,0.82],[-1.82,1.02],[-2.23,1.43],[-2.63,1.74],[-2.89,2.41]];
const brSimLobeUR = [[0.61,1.74],[0.91,2.15],[1.32,2.66],[1.62,2.97],[2.13,3.28],[2.53,3.18],[2.94,2.66],[3.24,2.36],[3.44,2.05],[3.24,1.54],[2.94,1.13],[2.63,0.82],[2.48,0.46],[2.03,0.36],[1.62,0.51],[1.22,0.67],[0.81,0.72],[0.61,0.92],[0.61,1.33],[0.61,1.74]];
const brExpLobeUR = [[0.91,1.74],[1.22,2.36],[1.62,2.72],[2.13,2.97],[2.63,2.77],[2.84,2.15],[2.63,1.74],[2.74,1.33],[2.43,1.02],[2.03,0.82],[1.42,0.72],[1.01,0.72],[0.81,1.13],[0.91,1.74]];
const brSimLobeLL = [[-3.29,-2.05],[-3.04,-1.59],[-2.74,-1.18],[-2.63,-0.62],[-2.23,-0.51],[-1.72,-0.39],[-1.22,-0.43],[-0.81,-0.72],[-0.93,-1.23],[-0.81,-1.74],[-1.01,-2.25],[-1.32,-2.66],[-1.62,-2.97],[-2.03,-3.18],[-2.43,-2.97],[-2.74,-2.66],[-3.04,-2.36],[-3.29,-2.05]];
const brExpLobeLL = [[-2.94,-1.95],[-2.74,-1.54],[-2.48,-1.18],[-2.03,-0.92],[-1.42,-0.82],[-1.01,-1.02],[-1.11,-1.54],[-1.01,-2.05],[-1.32,-2.46],[-1.72,-2.77],[-2.13,-2.87],[-2.53,-2.66],[-2.84,-2.36],[-2.94,-1.95]];
const brSimLobeLR = [[0.51,-0.72],[0.91,-0.62],[1.42,-0.62],[1.93,-0.64],[2.33,-0.77],[2.63,-1.13],[2.94,-1.54],[3.24,-1.95],[3.32,-2.31],[3.14,-2.77],[2.84,-3.18],[2.43,-3.59],[1.93,-3.79],[1.42,-3.92],[1.11,-3.61],[0.81,-3.28],[0.61,-2.77],[0.51,-2.25],[0.46,-1.74],[0.51,-1.23],[0.51,-0.72]];
const brExpLobeLR = [[0.71,-1.02],[1.22,-0.84],[1.82,-0.94],[2.23,-1.25],[2.63,-1.64],[2.84,-2.15],[2.94,-2.66],[2.63,-3.07],[2.23,-3.38],[1.82,-3.59],[1.42,-3.57],[1.11,-3.28],[0.91,-2.77],[0.81,-2.15],[0.73,-1.54],[0.71,-1.02]];
const brExpMarks = [[-4.36,2.92],[-3.65,1.08],[3.7,-1.13],[-1.11,2.56],[1.11,-2.56],[2.23,-2.92],[-1.6,3.55],[1.4,-3.95]];
const brSimMarks = [[-2.18,0.36],[2.23,-0.36],[2.23,2.97],[-2.18,-2.92]];

// ---------- panel assembly ----------
const BLUE = '#3a4898', PINK = '#f28dbd';
const panels = [
  { box:{left:87, top:8, width:480, height:475}, xTicks:TICKS_EVEN, legendPos:{left:348, top:15},
    exp:[tlExpOuterLeft, tlExpOuterRight, tlExpSecond, tlExpThird, tlExpInner],
    sim:[tlSimOuterLeft, tlSimOuterRight, tlSimSecondLeft, tlSimSecondRight, tlSimThird, tlSimInner, tlSimLoopA, tlSimLoopB, tlSimZigA, tlSimZigB],
    expMarks:tlExpMarks, simMarks:tlSimMarks, expBlobs:[], simSquares:[] },
  { box:{left:687, top:9, width:480, height:475}, xTicks:TICKS_FIVE, legendPos:{left:947, top:17},
    exp:[trExpRing1, trExpRing2, trExpRing3, trExpDivide, trExpLobeUL, trExpLobeLR, trExpTriUR, trExpTriLL],
    sim:[trSimRing1, trSimRing2, trSimRing3, trSimLobeUL, trSimLobeLR, trSimCenter, trSimCenterDot, trSimTriUR1, trSimTriUR2, trSimTriLL1, trSimTriLL2],
    expMarks:trExpMarks, simMarks:trSimMarks, expBlobs:[], simSquares:trSimSquares },
  { box:{left:87, top:602, width:480, height:475}, xTicks:TICKS_EVEN, legendPos:{left:348, top:610},
    exp:[blExpOuterLeft, blExpOuterRight, blExpSecond, blExpThird, blExpInner],
    sim:[blSimOuterLeft, blSimOuterRight, blSimSecondLeft, blSimSecondRight, blSimThird, blSimInner, blSimLoopA, blSimLoopB],
    expMarks:blExpMarks, simMarks:[], expBlobs:blExpBlobs, simSquares:[] },
  { box:{left:687, top:601, width:480, height:475}, xTicks:TICKS_EVEN, legendPos:{left:948, top:608},
    exp:[brExpRing1, brExpRing2, brExpRing3, brExpChannelTop, brExpChannelBottom, brExpDiamond, brExpLobeUL, brExpLobeUR, brExpLobeLL, brExpLobeLR],
    sim:[brSimRing1, brSimRing2, brSimRing3, brSimDiamond, brSimCore, brSimLobeUL, brSimLobeUR, brSimLobeLL, brSimLobeLR],
    expMarks:brExpMarks, simMarks:brSimMarks, expBlobs:[], simSquares:[] }
];

const FONT = 'Lato';
const INK = '#1e1e1e';
const CROSS = 'path://M0,2L2,0L5,3L8,0L10,2L7,5L10,8L8,10L5,7L2,10L0,8L3,5Z';
const fmt = v => v < 0 ? '\u2212' + Math.abs(v) : String(v);
// x labels: digit centred on the tick, minus sign hanging to the left (hidden twin on the right)
const fmtX = v => v < 0 ? '\u2212' + Math.abs(v) + '{h|\u2212}' : String(v);
const axisLineStyle = {show:true, onZero:false, lineStyle:{color:INK, width:1.2}};
const tickStyle = vals => ({show:true, inside:true, length:6, customValues:vals, lineStyle:{color:INK, width:1}});

const grids = [], xAxes = [], yAxes = [], series = [], legends = [];
panels.forEach((p, i) => {
  grids.push(Object.assign({containLabel:false, outerBoundsMode:'none'}, p.box));
  xAxes.push({type:'value', gridIndex:i, position:'bottom', min:AXIS_RANGE[0], max:AXIS_RANGE[1],
    axisLine:axisLineStyle, axisTick:tickStyle(p.xTicks), splitLine:{show:false},
    axisLabel:{customValues:p.xTicks, formatter:fmtX, fontFamily:FONT, fontSize:20, color:INK, margin:11,
      rich:{h:{fontFamily:FONT, fontSize:20, color:'rgba(0,0,0,0)'}}},
    name:'frequency   \u03c9{s|x} (lines/cm)', nameLocation:'middle', nameGap:31, nameMoveOverlap:false,
    nameTextStyle:{fontFamily:FONT, fontSize:23.5, lineHeight:28, color:INK,
      rich:{s:{fontFamily:FONT, fontSize:18, lineHeight:20, color:INK, padding:[30,0,0,0]}}}});
  xAxes.push({type:'value', gridIndex:i, position:'top', min:AXIS_RANGE[0], max:AXIS_RANGE[1],
    axisLine:axisLineStyle, axisTick:tickStyle(p.xTicks), axisLabel:{show:false}, splitLine:{show:false}});
  yAxes.push({type:'value', gridIndex:i, position:'left', min:AXIS_RANGE[0], max:AXIS_RANGE[1],
    axisLine:axisLineStyle, axisTick:tickStyle(TICKS_EVEN), splitLine:{show:false},
    axisLabel:{customValues:TICKS_EVEN, formatter:fmt, fontFamily:FONT, fontSize:20, color:INK, margin:6},
    name:'frequency   \u03c9{s|y} (lines/cm)', nameLocation:'middle', nameGap:53, nameRotate:90, nameMoveOverlap:false,
    nameTextStyle:{fontFamily:FONT, fontSize:23.5, lineHeight:28, color:INK,
      rich:{s:{fontFamily:FONT, fontSize:18, lineHeight:20, color:INK, padding:[40,0,0,0]}}}});
  yAxes.push({type:'value', gridIndex:i, position:'right', min:AXIS_RANGE[0], max:AXIS_RANGE[1],
    axisLine:axisLineStyle, axisTick:tickStyle(TICKS_EVEN), axisLabel:{show:false}, splitLine:{show:false}});

  const mk = (name, color, width, data, z) => ({
    type:'line', name, data, xAxisIndex:2*i, yAxisIndex:2*i, color,
    showSymbol:false, symbol:'none', silent:true, animation:false, clip:true, z,
    emphasis:{disabled:true},
    itemStyle:{color}, lineStyle:{color, width, cap:'round', join:'round'}
  });
  const pts = (name, color, data, symbol, size, z) => ({
    type:'scatter', name, data, xAxisIndex:2*i, yAxisIndex:2*i, color, symbol, symbolSize:size,
    silent:true, animation:false, z, emphasis:{disabled:true}, itemStyle:{color, opacity:1}
  });
  p.exp.forEach(d => series.push(mk(SERIES_NAMES[0], BLUE, 9, d, 2)));
  p.sim.forEach(d => series.push(mk(SERIES_NAMES[1], PINK, 7.5, d, 3)));
  if (p.expMarks.length) series.push(pts(SERIES_NAMES[0], BLUE, p.expMarks, CROSS, 9, 2));
  if (p.expBlobs.length) series.push(pts(SERIES_NAMES[0], BLUE, p.expBlobs, CROSS, 16, 2));
  if (p.simMarks.length) series.push(pts(SERIES_NAMES[1], PINK, p.simMarks, CROSS, 9, 3));
  if (p.simSquares.length) series.push(pts(SERIES_NAMES[1], PINK, p.simSquares, 'rect', 8, 3));

  legends.push({data:SERIES_NAMES, left:p.legendPos.left, top:p.legendPos.top, orient:'vertical',
    selectedMode:false, backgroundColor:'#fff', borderColor:INK, borderWidth:1, borderRadius:0,
    padding:[5,13,3,5], itemGap:1, itemWidth:53, itemHeight:28,
    icon:'path://M0,14A26.5,14,0,1,1,53,14A26.5,14,0,1,1,0,14Z',
    itemStyle:{borderWidth:0},
    textStyle:{fontFamily:FONT, fontSize:24, color:INK, padding:[0,0,0,-2]}, z:20});
});

const chart = echarts.init(document.getElementById('c'), null, {renderer:'canvas'});
chart.setOption({animation:false, backgroundColor:'#fff', grid:grids, xAxis:xAxes, yAxis:yAxes, legend:legends, series});
</script>
</body></html>
